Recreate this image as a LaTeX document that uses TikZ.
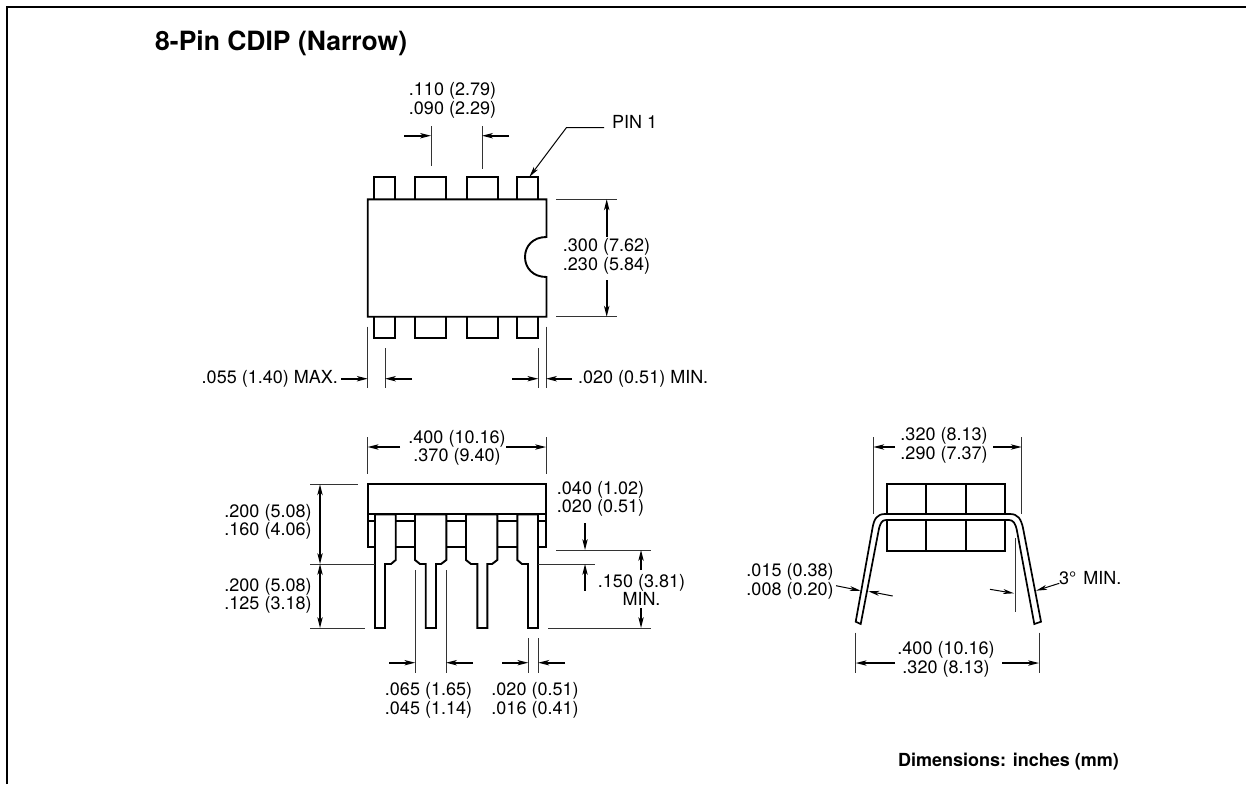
\documentclass[tikz,border=0pt]{standalone}
\usepackage{fontspec}
\setmainfont{TeX Gyre Heros}
\usetikzlibrary{arrows.meta}
\tikzset{
  outline/.style={draw=black,line width=1.9pt,line join=miter,fill=white},
  bareline/.style={draw=black,line width=1.9pt},
  extline/.style={draw=black!80,line width=1pt},
  dimarrow/.style={draw=black,line width=1.8pt,-{Stealth[length=11pt,width=5.5pt,inset=3pt,line width=0pt]}},
  dimdouble/.style={draw=black,line width=1.8pt,{Stealth[length=11pt,width=5.5pt,inset=3pt,line width=0pt]}-{Stealth[length=11pt,width=5.5pt,inset=3pt,line width=0pt]}},
  thinarrow/.style={draw=black,line width=1pt,-{Stealth[length=11pt,width=5pt,inset=3pt,line width=0pt]}},
  dimtext/.style={font=\fontsize{18}{18.6}\selectfont,inner sep=0pt,align=center},
  titletext/.style={font=\fontsize{26.5}{30}\selectfont\bfseries,inner sep=0pt,anchor=west},
  foottext/.style={font=\fontsize{18}{20}\selectfont\bfseries,inner sep=0pt,anchor=west},
}
\begin{document}
\begin{tikzpicture}[x=1pt,y=-1pt]
\useasboundingbox (0,0) rectangle (1246,784);
\fill[white] (0,0) rectangle (1246,784);
% frame
\draw[line width=2.2pt,black] (7,784) -- (7,7) -- (1246,7);
\node[titletext] (title) at (155,43) {8-Pin CDIP (Narrow)};
\node[foottext] (foot) at (898,762) {Dimensions: inches (mm)};

% ---- top view
\foreach \a/\b in {374.3/395.3,414.7/446.3,466.7/498.3,517/538.3}{
  \draw[outline] (\a,199.3) -- (\a,177.3) -- (\b,177.3) -- (\b,199.3);
  \draw[outline] (\a,316.7) -- (\a,338.3) -- (\b,338.3) -- (\b,316.7);
}
\draw[outline] (367.7,199.3) -- (546.5,199.3) -- (546.5,237)
  .. controls (533,237) and (525,246) .. (525,257)
  .. controls (525,268) and (533,277) .. (546.5,277)
  -- (546.5,316.7) -- (367.7,316.7) -- cycle;

% .110
\draw[extline] (431,126) -- (431,166);
\draw[extline] (482,126) -- (482,168.5);
\draw[dimarrow] (404,135.7) -- (431,135.7);
\draw[dimarrow] (509,135.7) -- (482,135.7);
\node[dimtext] (t110) at (452.5,100.5) {.110 (2.79)\\.090 (2.29)};
% pin 1
\draw[thinarrow] (604,127.5) -- (566.5,127.5) -- (529.3,177);
\node[dimtext,anchor=west] (tpin) at (612,122) {PIN 1};
% .300
\draw[extline] (556,199.3) -- (617,199.3);
\draw[extline] (556,316.7) -- (617,316.7);
\draw[dimarrow] (606.7,236.7) -- (606.7,199.3);
\draw[dimarrow] (606.7,280) -- (606.7,316.7);
\node[dimtext] (t300) at (606.5,256.5) {.300 (7.62)\\.230 (5.84)};
% .055 / .020
\draw[extline] (367.7,326.7) -- (367.7,388);
\draw[extline] (385,348) -- (385,388);
\draw[extline] (538.3,348) -- (538.3,388);
\draw[extline] (546,326.7) -- (546,388);
\draw[dimarrow] (341,378.7) -- (367.7,378.7);
\draw[dimarrow] (412,378.7) -- (385,378.7);
\draw[dimarrow] (512,378.7) -- (538.3,378.7);
\draw[dimarrow] (572,378.7) -- (546,378.7);
\node[dimtext,anchor=east] (t055) at (338,379) {.055 (1.40) MAX.};
\node[dimtext,anchor=west] (t020) at (578,379) {.020 (0.51) MIN.};

% ---- side view
\draw[extline] (367.7,437) -- (367.7,474);
\draw[extline] (546,437) -- (546,474);
\draw[dimarrow] (400,447) -- (367.7,447);
\draw[dimarrow] (506,447) -- (546,447);
\node[dimtext] (t400) at (457,448) {.400 (10.16)\\.370 (9.40)};

\draw[outline] (367.7,514.3) -- (367.7,547.3) -- (546,547.3) -- (546,514.3);
\draw[outline] (367.7,484.3) rectangle (546,514.3);
\draw[bareline] (367.7,520.7) -- (546,520.7);
% leads
\draw[outline] (375,514.3) -- (395.7,514.3) -- (395.7,560) -- (391,564) -- (385,564) -- (385,628) -- (375,628) -- cycle;
\draw[outline] (415,514.3) -- (446.3,514.3) -- (446.3,560) -- (441,564) -- (436,564) -- (436,628) -- (425.7,628) -- (425.7,564) -- (420,564) -- (415,560) -- cycle;
\draw[outline] (466,514.3) -- (497.3,514.3) -- (497.3,560) -- (492,564) -- (487.3,564) -- (487.3,628) -- (477.3,628) -- (477.3,564) -- (471,564) -- (466,560) -- cycle;
\draw[outline] (517.3,514.3) -- (538,514.3) -- (538,628) -- (528,628) -- (528,564) -- (522,564) -- (517.3,560) -- cycle;

% left dims
\draw[extline] (310,484.3) -- (358,484.3);
\draw[extline] (310,564) -- (375,564);
\draw[extline] (538,564) -- (595,564);
\draw[extline] (310,628) -- (365,628);
\draw[extline] (548,628) -- (651,628);
\draw[extline] (556,550) -- (651,550);
\draw[dimdouble] (320,484.3) -- (320,564);
\draw[dimdouble] (320,564) -- (320,628);
\node[dimtext] (t200a) at (268,522) {.200 (5.08)\\.160 (4.06)};
\node[dimtext] (t200b) at (268,596) {.200 (5.08)\\.125 (3.18)};
% .040
\node[dimtext] (t040) at (600.5,499) {.040 (1.02)\\.020 (0.51)};
\draw[dimarrow] (585,523) -- (585,550);
\draw[dimarrow] (585,590.7) -- (585,564);
% .150
\draw[dimarrow] (641,570) -- (641,550);
\draw[dimarrow] (641,608) -- (641,628);
\node[dimtext] (t150) at (641.5,590) {.150 (3.81)\\MIN.};
% .065
\draw[extline] (415.3,570) -- (415.3,673);
\draw[extline] (446,570) -- (446,673);
\draw[dimarrow] (389,662.7) -- (415.3,662.7);
\draw[dimarrow] (473,662.7) -- (446,662.7);
\node[dimtext] (t065) at (428.5,700.5) {.065 (1.65)\\.045 (1.14)};
% .020
\draw[extline] (528.3,638) -- (528.3,673);
\draw[extline] (538.3,638) -- (538.3,673);
\draw[dimarrow] (502,662.7) -- (528.3,662.7);
\draw[dimarrow] (565,662.7) -- (538.3,662.7);
\node[dimtext] (t020b) at (535,700.5) {.020 (0.51)\\.016 (0.41)};

% ---- end view
\draw[extline] (873.3,437) -- (873.3,514);
\draw[extline] (1021.7,437) -- (1021.7,514);
\draw[dimarrow] (895,447) -- (873.3,447);
\draw[dimarrow] (993,447) -- (1021.7,447);
\node[dimtext] (t320) at (944,445.5) {.320 (8.13)\\.290 (7.37)};
\draw[outline] (886.7,484) rectangle (1005,551);
\draw[bareline] (925.7,484) -- (925.7,551);
\draw[bareline] (966,484) -- (966,551);
\draw[outline,line width=1.7pt] (855.7,621.7) -- (872.5,528)
  .. controls (874,519) and (877,514) .. (885,514) -- (1010,514)
  .. controls (1018,514) and (1021,519) .. (1023,528)
  -- (1041,621.7) -- (1034.3,624) -- (1017,531)
  .. controls (1015.5,523) and (1013,520) .. (1009,520) -- (886,520)
  .. controls (882,520) and (880,523) .. (878.5,531)
  -- (860.7,624) -- cycle;
\draw[extline] (1015.7,538) -- (1015.7,612);
\draw[thinarrow] (836,585.7) -- (860.7,590.7);
\draw[thinarrow] (892.7,596) -- (868.3,591.3);
\draw[thinarrow] (990,589.3) -- (1014,593.3);
\draw[thinarrow] (1059.3,583.3) -- (1036,590.7);
\node[dimtext] (t015) at (790,581.5) {.015 (0.38)\\.008 (0.20)};
\node[dimtext,anchor=west] (t3) at (1059,578) {3°\hspace{2pt} MIN.};
\draw[extline] (855.7,632.7) -- (855.7,672.7);
\draw[extline] (1039,632.7) -- (1039,672.7);
\draw[dimarrow] (895,663) -- (855.7,663);
\draw[dimarrow] (1002,663) -- (1039,663);
\node[dimtext] (t400b) at (946,659.5) {.400 (10.16)\\.320 (8.13)};
\end{tikzpicture}
\end{document}
